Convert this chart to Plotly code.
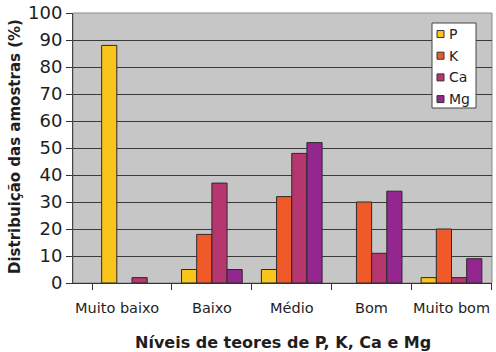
import plotly.graph_objects as go

# Levels of nutrient content and share of samples (%) in each level
levels = ["Muito baixo", "Baixo", "Médio", "Bom", "Muito bom"]
nutrients = ["P", "K", "Ca", "Mg"]
p_vals = [88, 5, 5, 0, 2]
k_vals = [0, 18, 32, 30, 20]
ca_vals = [2, 37, 48, 11, 2]
mg_vals = [0, 5, 52, 34, 9]
y_ticks = [0, 10, 20, 30, 40, 50, 60, 70, 80, 90, 100]

series = [p_vals, k_vals, ca_vals, mg_vals]
colors = ["#F9C41C", "#F05A28", "#B6366F", "#93278F"]

FONT = "DejaVu Sans"
TXT = "#1e1e1e"

# plot-area geometry in pixels (used to place legend and labels)
L, R, T, B = 73, 492, 13, 283
W, H = 496, 352


def px(x):
    return (x - L) / (R - L)


def py(y):
    return (B - y) / (B - T)


fig = go.Figure()
for name, vals, col in zip(nutrients, series, colors):
    fig.add_trace(go.Bar(
        x=levels, y=vals, name=name, showlegend=False,
        marker=dict(color=col,
                    line=dict(color="#2a2a2a",
                              width=[1 if v > 0 else 0 for v in vals])),
    ))

shapes = [dict(type="rect", xref="paper", yref="paper", x0=0, x1=1, y0=0, y1=1,
               line=dict(color="#8a8a8a", width=1), layer="below")]
annotations = []

# legend box with swatches
shapes.append(dict(type="rect", xref="paper", yref="paper",
                   x0=px(432), x1=px(476), y0=py(108), y1=py(23),
                   fillcolor="white", line=dict(color="#444", width=1), layer="above"))
for i, (name, col) in enumerate(zip(nutrients, colors)):
    cy = 34 + i * 21.7
    shapes.append(dict(type="rect", xref="paper", yref="paper",
                       x0=px(437), x1=px(444), y0=py(cy + 3.5), y1=py(cy - 3.5),
                       fillcolor=col, line=dict(color="#333", width=1), layer="above"))
    annotations.append(dict(xref="paper", yref="paper", x=px(447), y=py(cy),
                            xanchor="left", yanchor="middle", showarrow=False,
                            text=name, font=dict(family=FONT, size=14, color=TXT)))

# category labels under the axis
for i, lev in enumerate(levels):
    annotations.append(dict(xref="x", yref="paper", x=lev, y=py(308),
                            xshift=-15 if i == 0 else 0,
                            xanchor="center", yanchor="middle", showarrow=False,
                            text=lev, font=dict(family=FONT, size=14.5, color=TXT)))

# axis titles
annotations.append(dict(xref="paper", yref="paper", x=px(283), y=py(342),
                        xanchor="center", yanchor="middle", showarrow=False,
                        text="<b>Níveis de teores de P, K, Ca e Mg</b>",
                        font=dict(family=FONT, size=16, color=TXT)))
annotations.append(dict(xref="paper", yref="paper", x=px(15), y=py(147),
                        xanchor="center", yanchor="middle", showarrow=False,
                        textangle=-90,
                        text="<b>Distribuição das amostras (%)</b>",
                        font=dict(family=FONT, size=15, color=TXT)))

fig.update_layout(
    width=W, height=H,
    margin=dict(l=L, r=W - R, t=T, b=H - B, autoexpand=False),
    paper_bgcolor="white",
    plot_bgcolor="#C6C6C6",
    barmode="group",
    bargap=0.24,
    bargroupgap=0,
    font=dict(family=FONT, color=TXT),
    showlegend=False,
    xaxis=dict(
        type="category",
        automargin=False,
        tickson="boundaries",
        ticks="outside", ticklen=6, tickcolor="#333",
        showline=True, linecolor="#333", linewidth=1,
        showticklabels=False,
        showgrid=False,
    ),
    yaxis=dict(
        automargin=False,
        range=[0, 100],
        tickvals=y_ticks,
        ticks="outside", ticklen=6, tickcolor="#333",
        showline=True, linecolor="#444", linewidth=1,
        gridcolor="#3a3a3a", gridwidth=1,
        zeroline=False,
        tickfont=dict(family=FONT, size=18, color=TXT),
    ),
    shapes=shapes,
    annotations=annotations,
)

fig.write_html("out.html")
